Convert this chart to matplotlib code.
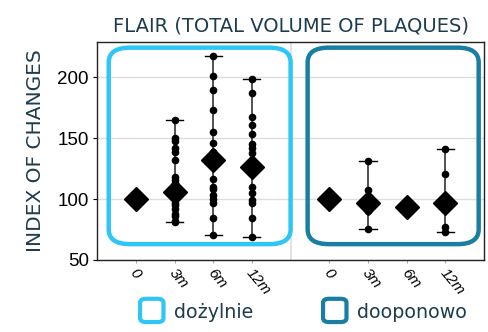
import matplotlib.pyplot as plt
from matplotlib.patches import FancyBboxPatch
from matplotlib.transforms import ScaledTranslation

timepoints = ["0", "3m", "6m", "12m"]
groups = ["dożylnie", "dooponowo"]
group_colors = ["#2DC6F7", "#1A7DA2"]
text_color = "#1D3C4E"

# mean (diamond) per timepoint
iv_means = [100, 106, 132.5, 126.5]
it_means = [100, 97, 93.7, 96.5]

# individual patient values per timepoint
iv_points = [
    [100],
    [165, 150, 148, 142, 139, 132, 118, 116, 113, 111, 109, 106, 103,
     100, 97, 95, 92, 88, 86, 82, 81],
    [217.5, 201.6, 189.3, 173.2, 154.9, 146.5, 138.8, 133, 116.2, 110.1,
     108.4, 103, 99.7, 96.5, 84.2, 70.5],
    [198.6, 187.5, 167.5, 160.7, 153.9, 145.7, 142.4, 137.5, 130, 110.1,
     104.7, 99.2, 96.5, 84.2, 69.1],
]
it_points = [
    [100],
    [131.2, 107.4, 90.4, 75.7],
    [93.7],
    [141.6, 121, 77.3, 73.2],
]

plt.rcParams["font.family"] = ["Liberation Sans", "DejaVu Sans"]

fig = plt.figure(figsize=(4.88, 3.32), dpi=100)
ax = fig.add_axes([0.199, 0.217, 0.793, 0.656])

all_means = [iv_means, it_means]
all_points = [iv_points, it_points]
offsets = [0, 5]

for g in range(2):
    for i in range(len(timepoints)):
        x = offsets[g] + i
        pts = all_points[g][i]
        if len(pts) > 1:
            ax.plot([x, x], [min(pts), max(pts)], color="#333333", lw=1.2, zorder=2)
            ax.plot([x - 0.22, x + 0.22], [max(pts)] * 2, color="black", lw=1.0, zorder=2)
            ax.plot([x - 0.22, x + 0.22], [min(pts)] * 2, color="black", lw=1.0, zorder=2)
            ax.plot([x] * len(pts), pts, "o", color="black", ms=4.5, zorder=3)
        ax.plot(x, all_means[g][i], "D", color="black", ms=12, zorder=4)

# rounded group frames
frame_x = [-0.70, 4.44]
frame_w = [4.70, 4.42]
for g in range(2):
    box = FancyBboxPatch((frame_x[g], 63), frame_w[g], 161.5,
                         boxstyle="round,pad=0,rounding_size=0.55",
                         mutation_aspect=22, fill=False,
                         edgecolor=group_colors[g], lw=3.2, zorder=5)
    ax.add_patch(box)

ax.axvline(4, color="#dddddd", lw=1.2, zorder=0)
ax.set_xlim(-1, 9)
ax.set_ylim(50, 229)
ax.set_yticks([50, 100, 150, 200])
ax.yaxis.grid(True, color="#dddddd", lw=1.0)
ax.set_axisbelow(True)
ax.tick_params(axis="y", labelsize=13.5, length=3, pad=3)
ax.set_xticks([0, 1, 2, 3, 5, 6, 7, 8])
ax.set_xticklabels(timepoints * 2, rotation=-50, ha="left", va="top",
                   style="italic", fontsize=11)
ax.tick_params(axis="x", length=2, color="#aaaaaa", pad=2)
shift = ScaledTranslation(-6 / 72, 0, fig.dpi_scale_trans)
for lbl in ax.get_xticklabels():
    lbl.set_transform(lbl.get_transform() + shift)
for s in ax.spines.values():
    s.set_color("#222222")
    s.set_linewidth(1.0)

ax.set_ylabel("INDEX OF CHANGES", color=text_color, fontsize=14.5,
              family=["DejaVu Sans"], labelpad=9)
ax.set_title("FLAIR (TOTAL VOLUME OF PLAQUES)", color=text_color,
             fontsize=14, family=["DejaVu Sans"], pad=8)

# legend drawn as rounded squares
legend_x = [0.287, 0.662]
for g in range(2):
    sq = FancyBboxPatch((legend_x[g], 0.03), 0.048, 0.07,
                        boxstyle="round,pad=0,rounding_size=0.012",
                        transform=fig.transFigure, fill=False,
                        edgecolor=group_colors[g], lw=3.0)
    fig.patches.append(sq)
    fig.text(legend_x[g] + 0.07, 0.058, groups[g], color=text_color,
             fontsize=13.7, va="center", ha="left", family=["DejaVu Sans"])

fig.savefig("out.png", dpi=100)
